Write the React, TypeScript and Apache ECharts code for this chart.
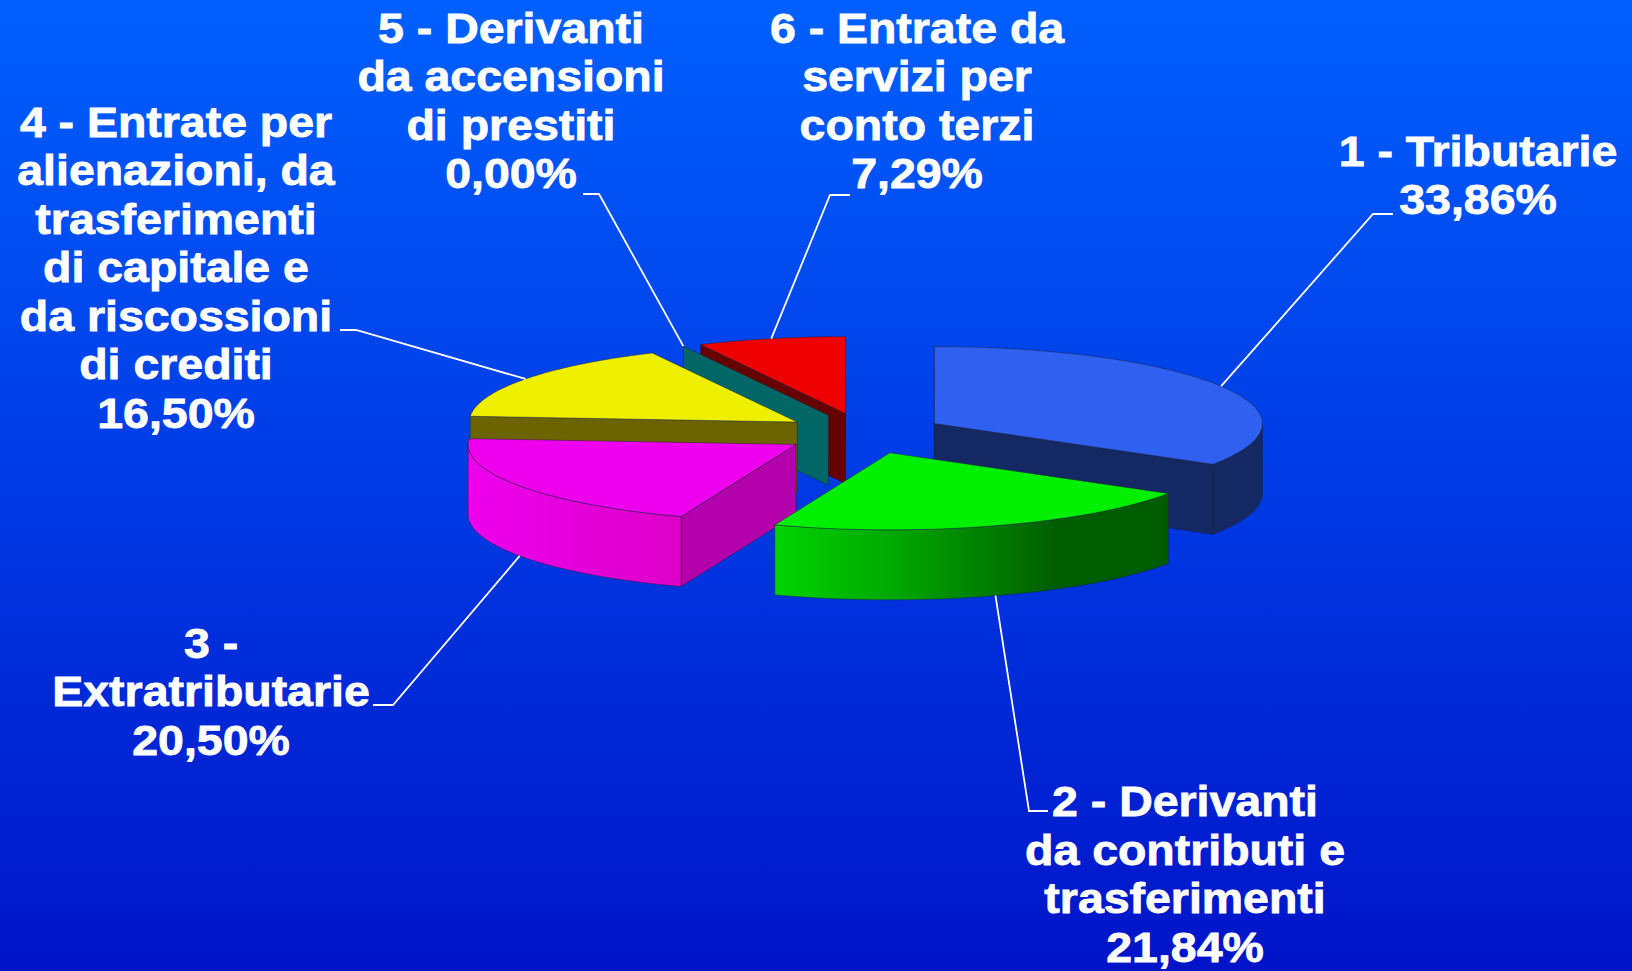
import React, { useEffect, useRef } from "react";
import * as echarts from "echarts";

// ---- data ----
const categories = [
  "1 - Tributarie",
  "2 - Derivanti\nda contributi e\ntrasferimenti",
  "3 -\nExtratributarie",
  "4 - Entrate per\nalienazioni, da\ntrasferimenti\ndi capitale e\nda riscossioni\ndi crediti",
  "5 - Derivanti\nda accensioni\ndi prestiti",
  "6 - Entrate da\nservizi per\nconto terzi",
];
const shares = [33.86, 21.84, 20.5, 16.5, 0.0, 7.29];

// ---- style / layout ----
const topColors = ["#3060F0", "#00F000", "#EE00EE", "#EFEF00", "#006666", "#EE0000"];
const startWallColors = ["#142864", "#005C00", "#B400AC", "#6B6400", "#006666", "#660000"];
const endWallColors = ["#142864", "#005C00", "#B400AC", "#6B6400", "#006666", "#660000"];
const rimStops: [number, string][][] = [
  [[0, "#142864"], [1, "#142864"]],
  [[0, "#00D400"], [0.3, "#00A800"], [0.72, "#005E00"], [1, "#005C00"]],
  [[0, "#EE00EE"], [1, "#DC00C8"]],
  [[0, "#6B6400"], [1, "#6B6400"]],
  [[0, "#006666"], [1, "#006666"]],
  [[0, "#660000"], [1, "#660000"]],
];
const labelCentre: [number, number][] = [
  [1478, 126], [1185, 776.5], [211, 618], [176, 97], [511, 3], [917, 3],
];
const labelElbow: [number, number][][] = [
  [[1373, 214], [1393, 214]],
  [[1029, 811], [1048, 811]],
  [[393, 705], [373, 705]],
  [[356, 330], [340, 330]],
  [[599, 194], [583, 194]],
  [[830, 195], [850, 195]],
];
const CX = 864, CY = 433.5, RX = 328, RY = 77, EX = 80.5, EY = 20.4, H = 70;
const FONT = 43, LINE = 48.5, TEXT_STRETCH = 1.08;

const total = shares.reduce((a, b) => a + b, 0);
const rad = (d: number) => (d * Math.PI) / 180;
const sliceGeom = shares.map((_, i) => {
  const before = shares.slice(0, i).reduce((a, b) => a + b, 0);
  const a = (before / total) * 360;
  const b = ((before + shares[i]) / total) * 360;
  const m = (a + b) / 2;
  return { a, b, m, ax: CX + EX * Math.sin(rad(m)), ay: CY - EY * Math.cos(rad(m)) };
});
const drawOrder = shares.map((_, i) => i).sort((p, q) => sliceGeom[p].ay - sliceGeom[q].ay);

function rimPoint(i: number, deg: number, z = 0): [number, number] {
  const g = sliceGeom[i];
  return [g.ax + RX * Math.sin(rad(deg)), g.ay - RY * Math.cos(rad(deg)) + z];
}
function arc(i: number, from: number, to: number, z = 0) {
  const pts: [number, number][] = [];
  const n = Math.max(1, Math.ceil(Math.abs(to - from) / 2));
  for (let k = 0; k <= n; k++) pts.push(rimPoint(i, from + ((to - from) * k) / n, z));
  return pts;
}
const EDGE = { stroke: "rgba(30,30,50,0.45)", lineWidth: 1 };

function renderSlice(_: any, api: any) {
  const i = api.value(0) as number;
  const g = sliceGeom[i];
  const apex: [number, number] = [g.ax, g.ay];
  const apexLow: [number, number] = [g.ax, g.ay + H];
  const children: any[] = [];
  const poly = (points: [number, number][], fill: any) => ({
    type: "polygon",
    shape: { points },
    style: { fill, ...EDGE },
  });
  // radial wall at the start angle, seen when it turns to the front
  if (Math.cos(rad(g.a - 90)) < 0 || i === 0)
    children.push(poly([apex, rimPoint(i, g.a), rimPoint(i, g.a, H), apexLow], startWallColors[i]));
  // radial wall at the end angle
  if (Math.cos(rad(g.b + 90)) < 0)
    children.push(poly([apex, rimPoint(i, g.b), rimPoint(i, g.b, H), apexLow], endWallColors[i]));
  // outer rim, front half only
  const r0 = Math.max(g.a, 90), r1 = Math.min(g.b, 270);
  if (r1 > r0) {
    const stops = rimStops[i].map(([offset, color]) => ({ offset, color }));
    children.push(
      poly(
        [...arc(i, r0, r1), ...arc(i, r1, r0, H)],
        new echarts.graphic.LinearGradient(0, 0, 1, 0, stops)
      )
    );
  }
  // top face
  if (g.b > g.a) children.push(poly([apex, ...arc(i, g.a, g.b)], topColors[i]));
  return { type: "group", children };
}

function renderLabel(_: any, api: any) {
  const i = api.value(0) as number;
  const g = sliceGeom[i];
  const front = g.m > 90 && g.m < 270;
  const start = rimPoint(i, g.m, front ? H : 0);
  const text = categories[i] + "\n" + shares[i].toFixed(2).replace(".", ",") + "%";
  return {
    type: "group",
    children: [
      {
        type: "polyline",
        shape: { points: [start, ...labelElbow[i]] },
        style: { stroke: "#FFFFFF", lineWidth: 1.8, fill: "none" },
      },
      {
        type: "text",
        x: labelCentre[i][0],
        y: labelCentre[i][1],
        scaleX: TEXT_STRETCH,
        style: {
          text,
          fill: "#FFFFFF",
          stroke: "#FFFFFF",
          lineWidth: 0.8,
          font: `bold ${FONT}px "Liberation Sans", Arial, sans-serif`,
          lineHeight: LINE,
          align: "center",
          verticalAlign: "top",
        },
      },
    ],
  };
}

export default function App() {
  const ref = useRef<HTMLDivElement>(null);
  useEffect(() => {
    const chart = echarts.init(ref.current!, undefined, { renderer: "svg" });
    chart.setOption({
      animation: false,
      backgroundColor: new echarts.graphic.LinearGradient(0, 0, 0, 1, [
        { offset: 0, color: "#0060FF" },
        { offset: 1, color: "#0014C8" },
      ]),
      series: [
        {
          type: "custom",
          coordinateSystem: "none",
          silent: true,
          clip: false,
          data: drawOrder.map((i) => [i, shares[i]]),
          renderItem: renderSlice,
          z: 2,
        },
        {
          type: "custom",
          coordinateSystem: "none",
          silent: true,
          clip: false,
          data: shares.map((v, i) => [i, v]),
          renderItem: renderLabel,
          z: 3,
        },
      ],
    });
    return () => chart.dispose();
  }, []);
  return <div ref={ref} style={{ position: "fixed", left: 0, top: 0, width: 1632, height: 971 }} />;
}
